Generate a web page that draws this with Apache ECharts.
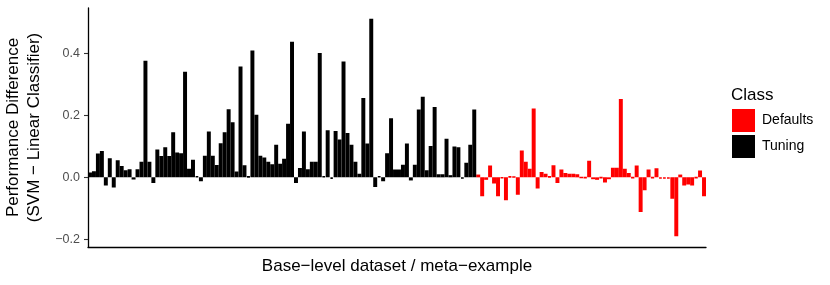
<!DOCTYPE html>
<html>
<head>
<meta charset="utf-8">
<script src="https://cdn.jsdelivr.net/npm/echarts@6/dist/echarts.min.js"></script>
<style>
  html, body { margin: 0; padding: 0; background: #fff; }
  #chart { width: 830px; height: 285px; }
</style>
</head>
<body>
<div id="chart"></div>
<script>
// performance difference per base-level dataset
const tuningValues = [
  0.016, 0.02, 0.077, 0.085, -0.026, 0.062, -0.033, 0.055, 0.037, 0.023,
  0.026, -0.007, 0.026, 0.05, 0.377, 0.05, -0.018, 0.09, 0.069, 0.097,
  0.069, 0.146, 0.08, 0.078, 0.341, 0.028, 0.057, 0.004, -0.013, 0.07,
  0.148, 0.07, 0.04, 0.11, 0.146, 0.22, 0.178, 0.019, 0.358, 0.039,
  0.003, 0.41, 0.202, 0.07, 0.064, 0.05, 0.042, 0.105, 0.044, 0.06,
  0.173, 0.438, -0.018, 0.03, 0.148, 0.026, 0.05, 0.05, 0.402, 0.004,
  0.152, -0.005, 0.15, 0.122, 0.374, 0.143, 0.105, 0.05, 0.012, 0.256,
  0.109, 0.512, -0.031, 0.004, -0.013, 0.078, 0.191, 0.025, 0.025, 0.041,
  0.109, -0.01, 0.041, 0.219, 0.26, 0.023, 0.101, 0.227, 0.01, 0.01,
  0.125, 0.007, 0.1, 0.097, -0.004, 0.047, 0.105, 0.219
];
const defaultsValues = [
  0.009, -0.061, -0.008, 0.038, -0.02, -0.061, -0.003, -0.074, 0.003, 0.002,
  -0.056, 0.087, 0.05, 0.028, 0.222, -0.036, 0.017, 0.012, 0.003, 0.039,
  -0.018, 0.025, 0.014, 0.012, 0.012, 0.01, -0.001, -0.002, 0.054,
  -0.006, -0.008, -0.002, -0.017, -0.006, 0.031, 0.031, 0.253, 0.028, 0.014,
  -0.002, 0.038, -0.112, -0.042, 0.025, -0.002, 0.029, -0.004, -0.004, -0.004,
  -0.069, -0.19, 0.009, -0.026, -0.023, -0.026, -0.002, 0.022, -0.061
];
const yTicks = [-0.2, 0, 0.2, 0.4];
const classNames = ['Defaults', 'Tuning'];

const total = tuningValues.length + defaultsValues.length;
const categories = [];
for (let i = 0; i < total; i++) categories.push('ds' + (i + 1));

// pad each class so both share one category axis
const tuningData = tuningValues.concat(defaultsValues.map(() => '-'));
const defaultsData = tuningValues.map(() => '-').concat(defaultsValues);

const font = '"Liberation Sans", Arial, sans-serif';
const chart = echarts.init(document.getElementById('chart'), null, { renderer: 'canvas' });

const option = {
  backgroundColor: '#fff',
  animation: false,
  textStyle: { fontFamily: font },
  title: {
    text: 'Class',
    left: 731,
    top: 87,
    padding: 0,
    textStyle: { fontSize: 17, fontWeight: 'normal', color: '#000', fontFamily: font }
  },
  legend: {
    data: classNames,
    orient: 'vertical',
    left: 732,
    top: 109,
    padding: 0,
    itemWidth: 23,
    itemHeight: 23,
    itemGap: 3,
    icon: 'rect',
    selectedMode: false,
    itemStyle: { borderWidth: 0 },
    textStyle: { fontSize: 14, color: '#000', fontFamily: font, padding: [0, 0, 0, 2] }
  },
  grid: {
    left: 88,
    right: 124,
    top: 8,
    bottom: 38,
    containLabel: false,
    outerBoundsMode: 'none'
  },
  xAxis: {
    type: 'category',
    data: categories,
    name: 'Base\u2212level dataset / meta\u2212example',
    nameLocation: 'middle',
    nameGap: 11,
    nameTextStyle: { fontSize: 17, color: '#000', fontFamily: font },
    axisLine: { show: true, onZero: false, lineStyle: { color: '#000', width: 1.3 } },
    axisTick: { show: false },
    axisLabel: { show: false },
    splitLine: { show: false }
  },
  yAxis: {
    type: 'value',
    min: -0.225,
    max: 0.547,
    name: 'Performance Difference\n(SVM \u2212 Linear Classifier)',
    nameLocation: 'middle',
    nameGap: 41,
    nameTextStyle: { fontSize: 17, color: '#000', fontFamily: font, lineHeight: 21 },
    axisLine: { show: true, lineStyle: { color: '#000', width: 1.3 } },
    axisTick: {
      show: true,
      length: 4,
      customValues: yTicks,
      lineStyle: { color: '#333', width: 1.1 }
    },
    axisLabel: {
      customValues: yTicks,
      margin: 8,
      fontSize: 12.5,
      color: '#4d4d4d',
      fontFamily: font,
      formatter: v => v.toFixed(1).replace('-', '\u2212')
    },
    splitLine: { show: false }
  },
  series: [
    {
      name: 'Defaults',
      type: 'bar',
      stack: 'cls',
      data: defaultsData,
      barCategoryGap: '0%',
      itemStyle: { color: '#ff0000', borderColor: '#ff0000', borderWidth: 1.6 },
      emphasis: { disabled: true }
    },
    {
      name: 'Tuning',
      type: 'bar',
      stack: 'cls',
      data: tuningData,
      barCategoryGap: '0%',
      itemStyle: { color: '#000000', borderColor: '#000000', borderWidth: 1.6 },
      emphasis: { disabled: true }
    }
  ]
};

chart.setOption(option);
</script>
</body>
</html>
